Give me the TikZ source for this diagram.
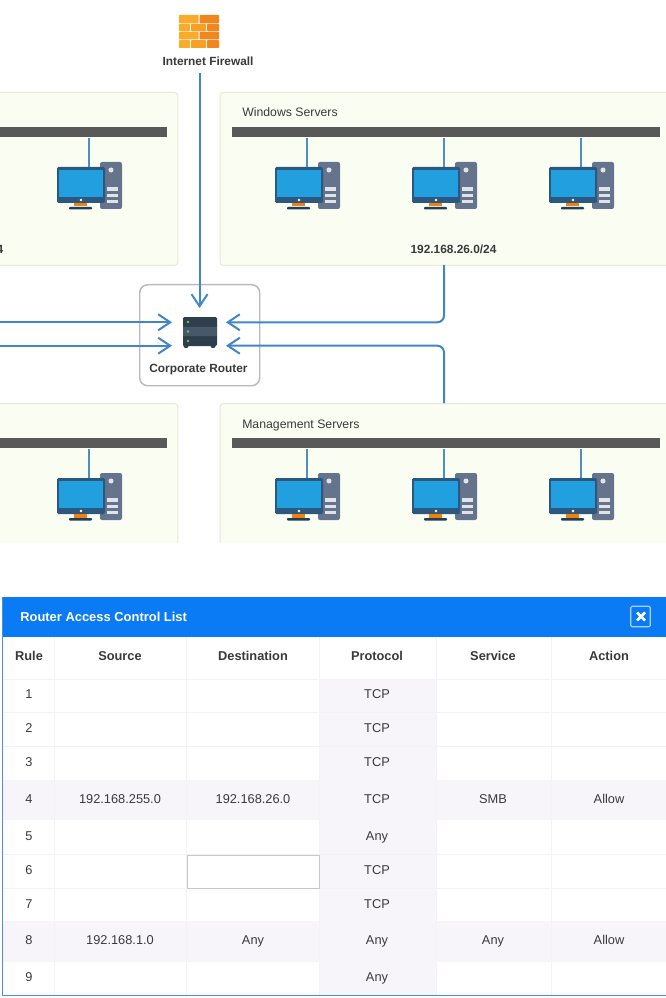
\documentclass[tikz,border=0pt]{standalone}
\usepackage{fontspec}
\setmainfont{Liberation Sans}
\usetikzlibrary{arrows.meta}
\definecolor{panelfill}{HTML}{FAFEF2}
\definecolor{panelline}{HTML}{E6EAD6}
\definecolor{barcol}{HTML}{595959}
\definecolor{linkcol}{HTML}{3F88C5}
\definecolor{stemcol}{HTML}{4F8FBF}
\definecolor{scrcol}{HTML}{229FDE}
\definecolor{framecol}{HTML}{2C5880}
\definecolor{towercol}{HTML}{65748C}
\definecolor{hdrblue}{HTML}{0A7BF5}
\definecolor{rowshade}{HTML}{F7F5F9}
\definecolor{edgeblue}{HTML}{4A90D9}
\definecolor{txt}{HTML}{3A3A3A}
\definecolor{rowline}{HTML}{F3F2F8}
\definecolor{rslab}{HTML}{2F3E4C}
\definecolor{rslabm}{HTML}{46596B}
\definecolor{rdot}{HTML}{7CC142}
\tikzset{
  panel/.style={draw=panelline,fill=panelfill,line width=0.75pt,rounded corners=2.5pt,anchor=north west,inner sep=0pt},
  netbar/.style={fill=barcol,anchor=north west,inner sep=0pt,minimum height=7.5pt},
  link/.style={draw=linkcol,line width=1.5pt,rounded corners=5pt,-{Straight Barb[length=9pt,width=12pt,line width=1.5pt]}},
  stem/.style={draw=stemcol,line width=1.5pt},
  lbl/.style={font=\fontsize{9.2}{11}\selectfont,text=txt,inner sep=0pt,text height=7pt,text depth=2pt},
  blbl/.style={font=\fontsize{8.9}{11}\selectfont\bfseries,text=txt,inner sep=0pt,text height=7pt,text depth=2pt},
  cell/.style={font=\fontsize{9.6}{11}\selectfont,text=txt,inner sep=0pt,text height=7pt,text depth=2pt},
  hcell/.style={font=\fontsize{9.6}{11}\selectfont\bfseries,text=txt,inner sep=0pt,text height=7pt,text depth=2pt},
  pc/.pic={
    \fill[towercol,rounded corners=1.5pt] (43,-5) rectangle (65,42);
    \fill[white!80!towercol] (54,3) circle (1.9pt);
    \fill[white!80!towercol] (50,20) rectangle (61,24);
    \fill[white!80!towercol] (50,27) rectangle (61,30);
    \fill[white!80!towercol] (50,33) rectangle (61,36);
    \fill[framecol,rounded corners=1pt] (0,0) rectangle (48,36);
    \fill[scrcol] (2,3) rectangle (46,30);
    \fill[white] (24,33) circle (1pt);
    \fill[orange!80!brown] (17,36) rectangle (30,39.5);
    \fill[framecol!70!black,rounded corners=0.7pt] (12,40) rectangle (35,42.5);
    \coordinate (-top) at (32,0);
  }
}
\begin{document}
\begin{tikzpicture}[x=0.75pt,y=-0.75pt]
\useasboundingbox (0,0) rectangle (666,998);
\clip (0,0) rectangle (666,998);
\fill[white] (0,0) rectangle (666,998);

% ---------- panels ----------
\node[panel,minimum width=148pt,minimum height=129.75pt] (pTL) at (-20,92) {};
\node[panel,minimum width=345pt,minimum height=129.75pt] (pTR) at (219.5,92) {};
\begin{scope}
\clip (-30,395) rectangle (700,542);
\node[panel,minimum width=148pt,minimum height=135pt] (pBL) at (-20,403) {};
\node[panel,minimum width=345pt,minimum height=135pt] (pBR) at (219.5,403) {};
\end{scope}

% ---------- bars ----------
\node[netbar,minimum width=140.25pt] (bTL) at (-20,127) {};
\node[netbar,minimum width=321pt] (bTR) at (232,127) {};
\node[netbar,minimum width=140.25pt] (bBL) at (-20,438) {};
\node[netbar,minimum width=321pt] (bBR) at (232,438) {};

% ---------- computers ----------
\pic (c1) at (57,167) {pc};
\pic (c2) at (275,167) {pc};
\pic (c3) at (412,167) {pc};
\pic (c4) at (549,167) {pc};
\pic (c5) at (57,478) {pc};
\pic (c6) at (275,478) {pc};
\pic (c7) at (412,478) {pc};
\pic (c8) at (549,478) {pc};
\draw[stem] (c1-top |- bTL.south) -- (c1-top);
\draw[stem] (c2-top |- bTR.south) -- (c2-top);
\draw[stem] (c3-top |- bTR.south) -- (c3-top);
\draw[stem] (c4-top |- bTR.south) -- (c4-top);
\draw[stem] (c5-top |- bBL.south) -- (c5-top);
\draw[stem] (c6-top |- bBR.south) -- (c6-top);
\draw[stem] (c7-top |- bBR.south) -- (c7-top);
\draw[stem] (c8-top |- bBR.south) -- (c8-top);

% ---------- panel labels ----------
\node[lbl,anchor=west] (tWin) at (242,113.5) {Windows Servers};
\node[lbl,anchor=west] (tMan) at (242,425.5) {Management Servers};
\node[blbl,anchor=center] (ipWin) at (453.5,250.5) {192.168.26.0/24};
\node[blbl,anchor=east] (ipCut) at (3.5,250.5) {4};

% ---------- firewall ----------
\foreach \xa/\xb/\ya/\yb/\c in {
  179/198.5/15/23.3/FBAB2C, 199.5/219/15/23.3/F0861E,
  179/190/24/31.3/FBAB2C, 191/206/24/31.3/F7A026, 207/219/24/31.3/F0861E,
  179/198.5/32/39.5/FBAB2C, 199.5/219/32/39.5/F0861E,
  179/190/40.2/48/FBAB2C, 191/206/40.2/48/F7A026, 207/219/40.2/48/F0861E}{
  \definecolor{brick}{HTML}{\c}
  \fill[brick,rounded corners=0.5pt] (\xa,\ya) rectangle (\xb,\yb);
}
\node[blbl] (fwl) at (208,62.5) {Internet Firewall};

% ---------- router ----------
\node[draw={rgb,255:red,184;green,184;blue,198},fill=white,line width=1.1pt,rounded corners=6pt,anchor=north west,inner sep=0pt,minimum width=90pt,minimum height=75.75pt] (router) at (139,284) {};
\fill[rslab] (186,345.5) circle (2pt) (213,345.5) circle (2pt);
\fill[rslab,rounded corners=1pt] (183,317) rectangle (217,346);
\fill[rslabm] (183,326.5) rectangle (217,336);
\fill[white!20!rslab] (183,326) -- (217,326) (183,336) -- (217,336);
\fill[rdot] (188,322) circle (1pt) (188,331.5) circle (1pt) (188,341) circle (1pt);
\node[blbl] (rl) at (198.5,369) {Corporate Router};

% ---------- connectors ----------
\coordinate (tTop) at (199.5,308);
\coordinate (tLA) at (172,322.3);
\coordinate (tLB) at (172,345.7);
\coordinate (tRA) at (226,322.3);
\coordinate (tRB) at (226,345.7);
\coordinate (fwOut) at (199.5,73);
\coordinate (lA) at (-5,322.3);
\coordinate (lB) at (-5,345.7);
\coordinate (winOut) at (444,265);
\coordinate (manOut) at (444,403);
\draw[link] (fwOut) -- (tTop);
\draw[link] (lA) -- (tLA);
\draw[link] (lB) -- (tLB);
\draw[link] (winOut) |- (tRA);
\draw[link] (manOut) |- (tRB);

% ---------- ACL dialog ----------
\fill[white] (3,597) rectangle (666,995);
\fill[rowshade] (319,679) rectangle (436,995);
\fill[rowshade] (3,780) rectangle (666,820);
\fill[rowshade] (3,921) rectangle (666,962);
\foreach \yy in {679,712.5,746,854,888}{
  \draw[rowline,line width=0.6pt] (3,\yy) -- (666,\yy);
}
\foreach \xx in {54,186,319,436,551}{
  \draw[rowline,line width=0.5pt] (\xx,637) -- (\xx,995);
}
\fill[hdrblue] (3,597) rectangle (666,637);
\draw[edgeblue,line width=1.4pt] (2.5,597) -- (2.5,995.5) -- (666,995.5);
\node[font=\fontsize{9.7}{11}\selectfont\bfseries,text=white,inner sep=0pt,anchor=west] (title) at (20,617) {Router Access Control List};
\node[draw=white!65!hdrblue,fill=hdrblue,line width=0.9pt,rounded corners=1pt,minimum width=14.5pt,minimum height=15.5pt,inner sep=0pt] (closebtn) at (640.5,616.5) {};
\draw[white,line width=2pt] (637,612.5) -- (645,620.5) (645,612.5) -- (637,620.5);
\node[draw={rgb,255:red,200;green,200;blue,200},fill=white,line width=0.9pt,anchor=north west,inner sep=0pt,minimum width=99pt,minimum height=24.75pt] (inputbox) at (187,854.5) {};

\node[hcell] (hRule) at (29,657.5) {Rule};
\node[hcell] (hSrc) at (120,657.5) {Source};
\node[hcell] (hDst) at (253,657.5) {Destination};
\node[hcell] (hPro) at (377,657.5) {Protocol};
\node[hcell] (hSrv) at (493,657.5) {Service};
\node[hcell] (hAct) at (609,657.5) {Action};

\foreach \n/\yy/\pr in {1/695.5/TCP,2/729/TCP,3/763/TCP,4/800/TCP,5/837.5/Any,6/871/TCP,7/905/TCP,8/941.5/Any,9/978.5/Any}{
  \node[cell] (rule\n) at (29,\yy) {\n};
  \node[cell] (prot\n) at (377,\yy) {\pr};
}
\node[cell] (src4) at (120,800) {192.168.255.0};
\node[cell] (dst4) at (253,800) {192.168.26.0};
\node[cell] (srv4) at (493,800) {SMB};
\node[cell] (act4) at (609,800) {Allow};
\node[cell] (src8) at (120,941.5) {192.168.1.0};
\node[cell] (dst8) at (253,941.5) {Any};
\node[cell] (srv8) at (493,941.5) {Any};
\node[cell] (act8) at (609,941.5) {Allow};
\end{tikzpicture}
\end{document}
